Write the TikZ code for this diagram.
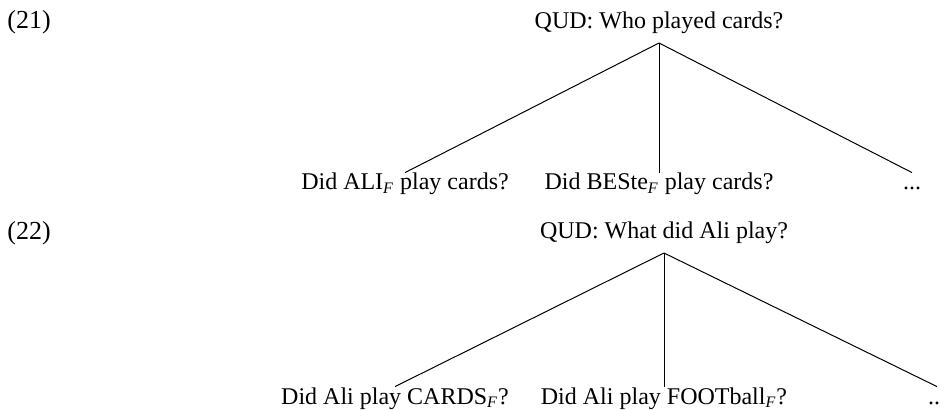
\documentclass[tikz,border=0pt]{standalone}
\usepackage{fontspec}
\setmainfont{Liberation Serif}
\usepackage{tikz}
\usetikzlibrary{positioning}
\tikzstyle{branch} = [line width=0.5pt, color=black]
\tikzstyle{qud} = [inner sep=0pt, text depth=0.25em, font=\fontsize{12}{14}\selectfont]
\tikzstyle{leaf} = [inner sep=1.5pt, text height=0.7em, text depth=0.25em, font=\fontsize{12}{14}\selectfont]
\tikzstyle{exnum} = [anchor=base west, inner sep=0pt, font=\fontsize{13}{15}\selectfont]
\newcommand{\foc}{\textsubscript{\textit{F}}}

\begin{document}
\begin{tikzpicture}[x=0.5pt, y=-0.5pt]
\useasboundingbox (0,0) rectangle (940,410);

% (21): subject focus
\node[exnum] (n21) at (7,29) {(21)};
\node[qud, anchor=base] (q21) at (659,29) {QUD: Who played cards?};
\coordinate (top21) at (659,43);
\node[leaf, anchor=base] (ali) at (405,190) {Did ALI\foc{} play cards?};
\node[leaf, anchor=base] (beste) at (659,190) {Did BESte\foc{} play cards?};
\node[leaf, anchor=base] (more21) at (912,190) {...};

\draw[branch] (top21) -- (ali.north);
\draw[branch] (top21) -- (beste.north);
\draw[branch] (top21) -- (more21.north);

% (22): object focus
\node[exnum] (n22) at (7,240) {(22)};
\node[qud, anchor=base] (q22) at (664,239) {QUD: What did Ali play?};
\coordinate (top22) at (664,253);
\node[leaf, anchor=base] (cards) at (395,404) {Did Ali play CARDS\foc?};
\node[leaf, anchor=base] (football) at (664,404) {Did Ali play FOOTball\foc?};
\node[leaf, anchor=base] (more22) at (937,404) {...};

\draw[branch] (top22) -- (cards.north);
\draw[branch] (top22) -- (football.north);
\draw[branch] (top22) -- (more22.north);
\end{tikzpicture}
\end{document}
